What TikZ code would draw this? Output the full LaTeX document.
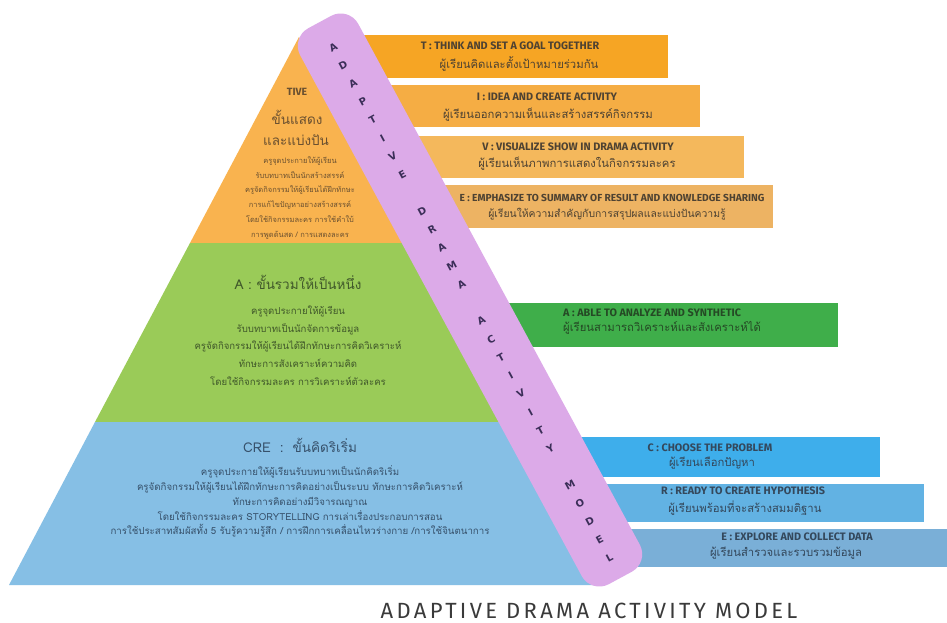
\documentclass[tikz,border=0pt]{standalone}
\usepackage{fontspec}
\setmainfont{Fira Sans}
\newfontfamily\thaifont[Script=Thai]{Loma}
\newfontfamily\bandfont{DejaVu Sans}
\newfontfamily\titlefont[LetterSpace=15]{Fira Sans}
\definecolor{pyorange}{HTML}{F9B34F}
\definecolor{pygreen}{HTML}{9ACB58}
\definecolor{pyblue}{HTML}{86BFE5}
\definecolor{bandcol}{HTML}{DCAAE8}
\definecolor{cT}{HTML}{F6A524}
\definecolor{cI}{HTML}{F5AD44}
\definecolor{cV}{HTML}{F4B85C}
\definecolor{cE}{HTML}{EDB363}
\definecolor{cA}{HTML}{3FAE4A}
\definecolor{cC}{HTML}{3EAEEB}
\definecolor{cR}{HTML}{62B2E3}
\definecolor{cX}{HTML}{7AAFD7}
\definecolor{txorange}{HTML}{6A5030}
\definecolor{txgreen}{HTML}{40582A}
\definecolor{txblue}{HTML}{36506A}
\definecolor{txbar}{HTML}{4E4232}
\definecolor{txgbar}{HTML}{254A25}
\definecolor{txbbar}{HTML}{34485C}
\definecolor{letcol}{HTML}{3B2E58}
\definecolor{titlecol}{HTML}{3A3A3A}
\tikzset{
  engline/.style={font=\bfseries\fontsize{10.8}{12}\selectfont, inner sep=0pt},
  thline/.style={font=\thaifont\fontsize{11.3}{13}\selectfont, inner sep=0pt},
  bandletter/.style={font=\bandfont\bfseries\fontsize{10}{11}\selectfont, text=letcol, inner sep=0pt, rotate=28.4},
  pyhead/.style={font=\thaifont\fontsize{13.5}{16}\selectfont, inner sep=0pt},
  pybody/.style={align=center, inner sep=0pt}
}
\begin{document}
\begin{tikzpicture}[x=1pt,y=1pt]
\useasboundingbox (0,0) rectangle (947,-623);
\fill[white] (0,0) rectangle (947,-623);
% pyramid layers
\fill[pyorange] (299,-37) -- (190,-243) -- (411.4,-243) -- cycle;
\fill[pygreen] (190,-243) -- (95,-422) -- (509,-422) -- (411.4,-243) -- cycle;
\fill[pyblue] (95,-422) -- (9,-585) -- (598,-585) -- (509,-422) -- cycle;
% bars
\fill[cT] (330,-35) rectangle (668,-78);
\fill[cI] (356,-85) rectangle (700,-127);
\fill[cV] (384,-136) rectangle (744,-178);
\fill[cE] (410,-185) rectangle (773,-228);
\fill[cA] (475,-303) rectangle (838,-347);
\fill[cC] (548,-437) rectangle (880,-477);
\fill[cR] (572,-484) rectangle (924,-522);
\fill[cX] (597,-529) rectangle (947,-567);
% bar texts
\node[engline, text=txbar] (t1) at (510,-46) {T : THINK AND SET A GOAL TOGETHER};
\node[thline, text=txbar] (t2) at (519,-64) {ผู้เรียนคิดและตั้งเป้าหมายร่วมกัน};
\node[engline, text=txbar] (i1) at (547,-97) {I : IDEA AND CREATE ACTIVITY};
\node[thline, text=txbar] (i2) at (548,-115) {ผู้เรียนออกความเห็นและสร้างสรรค์กิจกรรม};
\node[engline, text=txbar] (v1) at (578,-147) {V : VISUALIZE SHOW IN DRAMA ACTIVITY};
\node[thline, text=txbar] (v2) at (577,-164) {ผู้เรียนเห็นภาพการแสดงในกิจกรรมละคร};
\node[engline, text=txbar, font=\bfseries\fontsize{10.2}{12}\selectfont] (e1) at (612,-198) {E : EMPHASIZE TO SUMMARY OF RESULT AND KNOWLEDGE SHARING};
\node[thline, text=txbar, font=\thaifont\fontsize{10.4}{13}\selectfont] (e2) at (607,-214) {ผู้เรียนให้ความสำคัญกับการสรุปผลและแบ่งปันความรู้};
\node[engline, text=txgbar, anchor=west] (a1) at (563,-313) {A : ABLE TO ANALYZE AND SYNTHETIC};
\node[thline, text=txgbar, anchor=west] (a2) at (563,-328) {ผู้เรียนสามารถวิเคราะห์และสังเคราะห์ได้};
\node[engline, text=txbbar] (c1) at (710,-448) {C : CHOOSE THE PROBLEM};
\node[thline, text=txbbar] (c2) at (712,-463) {ผู้เรียนเลือกปัญหา};
\node[engline, text=txbbar] (r1) at (743,-491) {R : READY TO CREATE HYPOTHESIS};
\node[thline, text=txbbar] (r2) at (745,-508) {ผู้เรียนพร้อมที่จะสร้างสมมติฐาน};
\node[engline, text=txbbar] (x1) at (797,-537) {E : EXPLORE AND COLLECT DATA};
\node[thline, text=txbbar] (x2) at (786,-553) {ผู้เรียนสำรวจและรวบรวมข้อมูล};
% pyramid texts: orange
\node[font=\bfseries\fontsize{10.5}{12}\selectfont, text=txorange, inner sep=0pt] (otive) at (297,-92) {TIVE};
\node[pyhead, text=txorange] (oh1) at (297,-117) {ขั้นแสดง};
\node[pyhead, text=txorange] (oh2) at (296,-140) {และแบ่งปัน};
\node[pybody, text=txorange, font=\thaifont\fontsize{7.5}{14.8}\selectfont] (ob) at (300,-198) {ครูจุดประกายให้ผู้เรียน\\รับบทบาทเป็นนักสร้างสรรค์\\ครูจัดกิจกรรมให้ผู้เรียนได้ฝึกทักษะ\\การแก้ไขปัญหาอย่างสร้างสรรค์\\โดยใช้กิจกรรมละคร การใช้คำใบ้\\การพูดด้นสด / การแสดงละคร};
% green
\node[pyhead, text=txgreen] (gh) at (298,-282) {A : ขั้นรวมให้เป็นหนึ่ง};
\node[pybody, text=txgreen, font=\thaifont\fontsize{9.6}{17.7}\selectfont] (gb) at (298,-345.5) {ครูจุดประกายให้ผู้เรียน\\รับบทบาทเป็นนักจัดการข้อมูล\\ครูจัดกิจกรรมให้ผู้เรียนได้ฝึกทักษะการคิดวิเคราะห์\\ทักษะการสังเคราะห์ความคิด\\โดยใช้กิจกรรมละคร การวิเคราะห์ตัวละคร};
% blue
\node[pyhead, text=txblue] (bh) at (300,-445) {CRE \ :\ \ ขั้นคิดริเริ่ม};
\node[pybody, text=txblue, font=\thaifont\fontsize{9.7}{14.8}\selectfont] (bb) at (300,-501.5) {ครูจุดประกายให้ผู้เรียนรับบทบาทเป็นนักคิดริเริ่ม\\ครูจัดกิจกรรมให้ผู้เรียนได้ฝึกทักษะการคิดอย่างเป็นระบบ ทักษะการคิดวิเคราะห์\\ทักษะการคิดอย่างมีวิจารณญาณ\\โดยใช้กิจกรรมละคร STORYTELLING การเล่าเรื่องประกอบการสอน\\การใช้ประสาทสัมผัสทั้ง 5 รับรู้ความรู้สึก / การฝึกการเคลื่อนไหวร่างกาย /การใช้จินตนาการ};
% band
\node[fill=bandcol, rotate=-61.6, minimum width=632, minimum height=66, rounded corners=20, inner sep=0pt] (band) at (470,-300) {};
\foreach \ch [count=\i from 0] in {A,D,A,P,T,I,V,E,{},D,R,A,M,A,{},A,C,T,I,V,I,T,Y,{},M,O,D,E,L}{
  \pgfmathsetmacro\s{-287.6+\i*20.75}
  \node[bandletter] (bl\i) at ({470+\s*0.4756},{-300-\s*0.8796}) {\ch};
}
% title
\node[font=\titlefont\fontsize{22}{24}\selectfont, text=titlecol, inner sep=0pt, text depth=0pt, anchor=base] (title) at (589,-618) {ADAPTIVE DRAMA ACTIVITY MODEL};
\end{tikzpicture}
\end{document}
